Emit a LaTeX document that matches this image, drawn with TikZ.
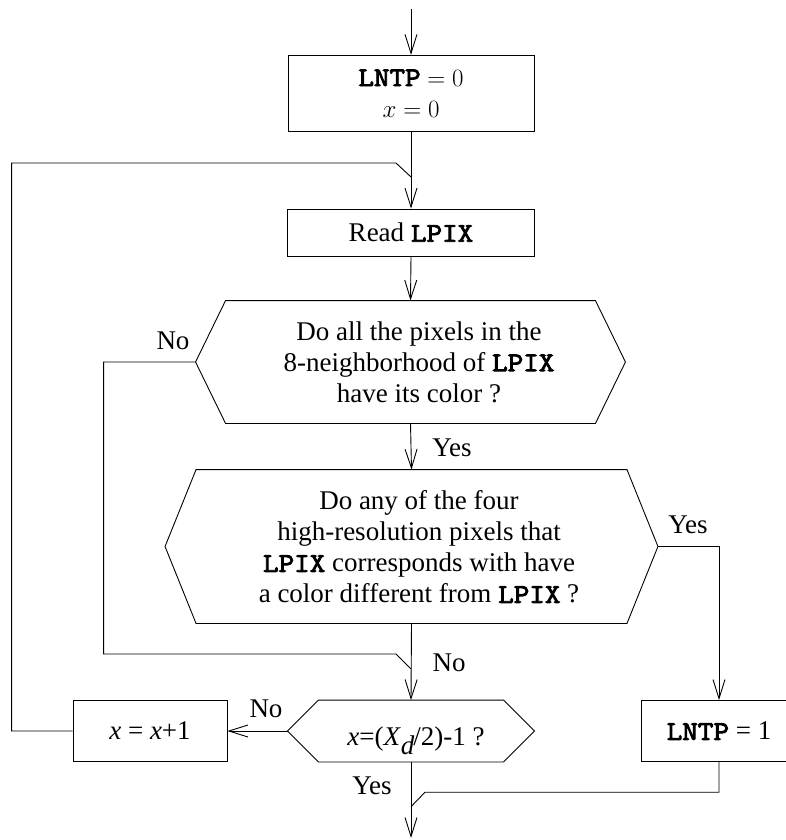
\documentclass[tikz,border=0pt]{standalone}
\usepackage{fontspec}
\setmainfont{Liberation Serif}
% heavy slab-serif typewriter for the variable names
\newfontfamily\codefont{Latin Modern Mono}[FakeBold=3.2, FakeStretch=1.12]
\usetikzlibrary{arrows.meta}
\newcommand\code[1]{{\codefont\fontsize{27}{31}\selectfont #1}}

\begin{document}
\begin{tikzpicture}[x=1pt,y=-1pt,line width=0.9pt,
  every node/.style={font=\fontsize{27}{31}\selectfont, inner sep=0pt},
  flow/.style={-{Straight Barb[length=19pt,width=12pt,line width=0.9pt]}},
  procbox/.style={draw, rectangle, align=center},
  decision/.style={rectangle}]
\useasboundingbox (0,0) rectangle (786,840);

% entry and exit points of the chart
\coordinate (top) at (411,9);
\coordinate (stop) at (411,838);

% process boxes
\node[procbox, minimum width=246pt, minimum height=76pt] (init) at (411,93.3)
  {\code{LNTP} $= 0$\\$x = 0$};
\node[procbox, minimum width=247pt, minimum height=47pt] (read) at (411,232.5)
  {Read \code{LPIX}};
\node[procbox, minimum width=154pt, minimum height=61pt] (inc) at (150,731)
  {\textit{x} = \textit{x}+1};
\node[procbox, minimum width=155pt, minimum height=61pt] (set) at (719,731)
  {\code{LNTP} = 1};

% decision hexagons: frame nodes plus their text
\node[decision, minimum width=429pt, minimum height=122pt] (q1) at (410.5,362) {};
\node[align=center] (q1t) at (419,362)
  {Do all the pixels in the\\8-neighborhood of \code{LPIX}\\have its color ?};
\node[decision, minimum width=492pt, minimum height=153pt] (q2) at (411.5,546.5) {};
\node[align=center] (q2t) at (419,547)
  {Do any of the four\\high-resolution pixels that\\\code{LPIX} corresponds with have\\a color different from \code{LPIX} ?};
\node[decision, minimum width=246pt, minimum height=61pt] (q3) at (411,731) {};
\node[anchor=base] (q3t) at (416,745)
  {\textit{x}=(\textit{X}\raisebox{-9pt}{\textit{d}}\kern-1pt/2)-1 ?};

\foreach \n/\d in {q1/30,q2/31,q3/31}
  \draw (\n.west) -- ([xshift=\d pt]\n.north west) -- ([xshift=-\d pt]\n.north east)
    -- (\n.east) -- ([xshift=-\d pt]\n.south east) -- ([xshift=\d pt]\n.south west) -- cycle;

% merge points on the main line
\coordinate (m1) at (411,177);
\coordinate (m2) at (411,669);
\coordinate (m3) at (411,806.7);

% connectors
\draw[flow] (top) -- (init.north);
\draw[flow] (init.south) -- (read.north);
\draw (inc.west) -- ++(-61,0) |- ([xshift=-15pt,yshift=14pt]m1) -- (m1);
\draw[flow] (read.south) -- (q1.north);
\draw (q1.west) -- ++(-92,0) |- ([xshift=-15pt,yshift=15pt]m2) -- (m2);
\draw[flow] (q1.south) -- (q2.north);
\draw[flow] (q2.east) -| (set.north);
\draw[flow] (q2.south) -- (q3.north);
\draw[flow] (q3.west) -- (inc.east);
\draw[flow] (q3.south) -- (stop);
\draw (set.south) |- ([xshift=14pt,yshift=14.5pt]m3) -- (m3);

% branch labels
\node (l1) at (173,341) {No};
\node (l2) at (452,448) {Yes};
\node (l3) at (688,524.5) {Yes};
\node (l4) at (449,663) {No};
\node (l5) at (266,708.5) {No};
\node (l6) at (372,786) {Yes};
\end{tikzpicture}
\end{document}
